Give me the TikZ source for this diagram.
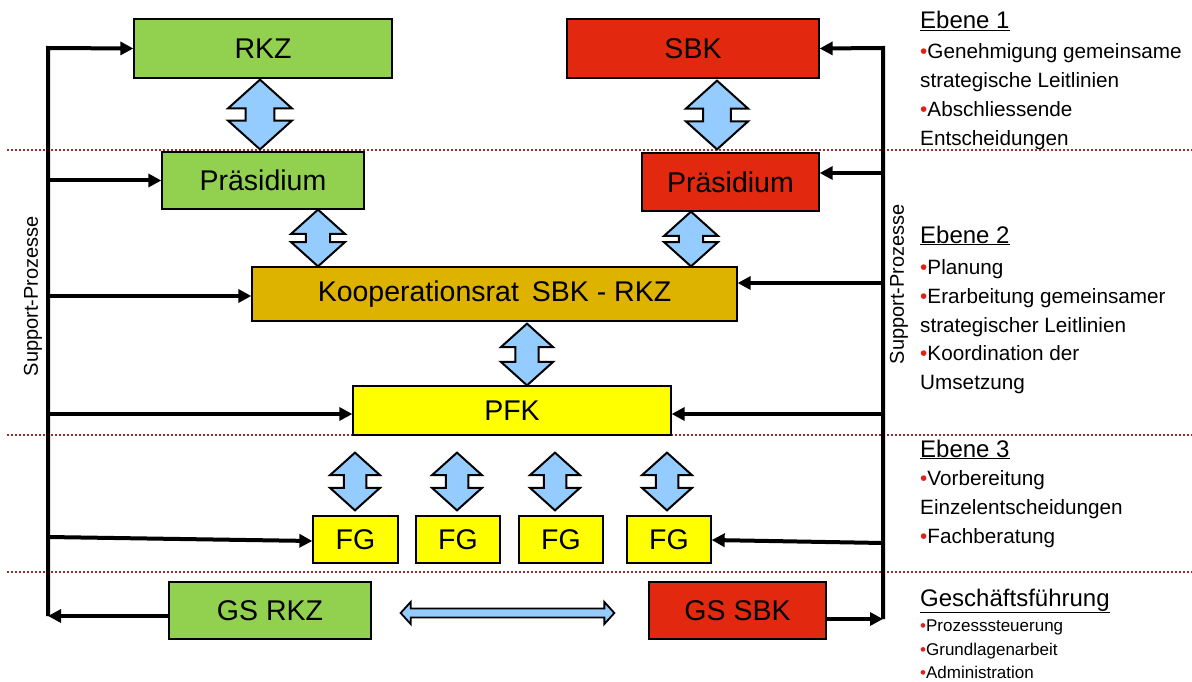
\documentclass[tikz,border=0pt]{standalone}
\usepackage{fontspec}
\setmainfont{Liberation Sans}
\usetikzlibrary{arrows.meta,calc}
\definecolor{cgreen}{HTML}{92D050}
\definecolor{cred}{HTML}{E2280F}
\definecolor{cgold}{HTML}{DDB300}
\definecolor{cyellow}{HTML}{FFFF00}
\definecolor{cblue}{HTML}{94CCFF}
\definecolor{sepcol}{HTML}{9A2F2F}
\definecolor{bulred}{HTML}{E0201A}
\newcommand\bul{{\color{bulred}•}}
% up-down double arrow: x, upper node, lower node, half width, top gap, bottom gap
\newcommand\udarr[6]{%
  \path[ud] let \p1=(#2.south), \p2=(#3.north),
    \n1={\y1-#5pt}, \n2={\y2+#6pt}, \n3={#4pt}, \n4={0.45*#4pt}, \n5={0.9*#4pt} in
    (#1pt,\n1) -- (#1pt-\n3,\n1-\n5) -- (#1pt-\n4,\n1-\n5) -- (#1pt-\n4,\n2+\n5)
    -- (#1pt-\n3,\n2+\n5) -- (#1pt,\n2) -- (#1pt+\n3,\n2+\n5) -- (#1pt+\n4,\n2+\n5)
    -- (#1pt+\n4,\n1-\n5) -- (#1pt+\n3,\n1-\n5) -- cycle;}
\begin{document}
\begin{tikzpicture}[x=1pt,y=-1pt,
  box/.style={draw=black,line width=1.3pt,inner sep=0pt,font=\fontsize{28.5}{30}\selectfont},
  conn/.style={line width=4pt,line join=miter,-{Triangle[length=13pt,width=13pt]}},
  sep/.style={draw=sepcol,line width=2pt,dash pattern=on 2pt off 2pt},
  ud/.style={fill=cblue,draw=black,line width=2pt,line join=miter},
  txt/.style={anchor=base west,inner sep=0pt,font=\fontsize{20.7}{24}\selectfont},
  etxt/.style={anchor=base west,inner sep=0pt,font=\fontsize{24}{28}\selectfont},
  stxt/.style={anchor=base west,inner sep=0pt,font=\fontsize{17}{20}\selectfont},
  htxt/.style={anchor=base west,inner sep=0pt,font=\fontsize{24}{28}\selectfont},
  vtxt/.style={rotate=90,inner sep=0pt,font=\fontsize{20}{24}\selectfont},
]
\useasboundingbox (0,0) rectangle (1192,682);
\fill[white] (0,0) rectangle (1192,682);

% separators
\draw[sep] (7,150) -- (1192,150);
\draw[sep] (7,435) -- (1192,435);
\draw[sep] (7,572) -- (1192,572);

% boxes
\node[box,fill=cgreen,minimum width=258pt,minimum height=59pt] (rkz) at (263,48.5) {RKZ};
\node[box,fill=cred,minimum width=252pt,minimum height=59pt] (sbk) at (693,48.5) {SBK};
\node[box,fill=cgreen,minimum width=202pt,minimum height=57pt] (prl) at (263,180.5) {Präsidium};
\node[box,fill=cred,minimum width=177pt,minimum height=58pt] (prr) at (730.5,182) {Präsidium};
\node[box,fill=cgold,minimum width=485pt,minimum height=54pt] (koop) at (494.5,294) {Kooperationsrat\hspace{5pt} SBK - RKZ};
\node[box,fill=cyellow,minimum width=318pt,minimum height=49pt] (pfk) at (512,410.5) {PFK};
\node[box,fill=cyellow,minimum width=85pt,minimum height=47pt] (fg1) at (355.5,539.5) {FG};
\node[box,fill=cyellow,minimum width=84pt,minimum height=47pt] (fg2) at (458,539.5) {FG};
\node[box,fill=cyellow,minimum width=84pt,minimum height=47pt] (fg3) at (561,539.5) {FG};
\node[box,fill=cyellow,minimum width=84pt,minimum height=47pt] (fg4) at (669,539.5) {FG};
\node[box,fill=cgreen,minimum width=202pt,minimum height=57pt] (gsr) at (270,610.5) {GS RKZ};
\node[box,fill=cred,minimum width=177pt,minimum height=57pt] (gss) at (737.5,610.5) {GS SBK};

% double arrows
\udarr{260}{rkz}{prl}{32}{1}{2}
\udarr{717}{sbk}{prr}{31}{2}{3}
\udarr{318}{prl}{koop}{27}{0}{0}
\udarr{691}{prr}{koop}{27}{0}{0}
\udarr{527}{koop}{pfk}{26}{2}{0}
\udarr{355}{pfk}{fg1}{25}{17}{5}
\udarr{457}{pfk}{fg2}{25}{17}{5}
\udarr{555}{pfk}{fg3}{25}{17}{5}
\udarr{667}{pfk}{fg4}{25}{17}{5}

% horizontal double arrow GS
\path[ud,line width=1.8pt] let \p1=(gsr.east), \p2=(gss.west), \n1={\x1+29pt}, \n2={\x2-34pt} in
  (\n1,613) -- (\n1+10pt,602) -- (\n1+10pt,608.5) -- (\n2-10pt,608.5) -- (\n2-10pt,602)
  -- (\n2,613) -- (\n2-10pt,624) -- (\n2-10pt,617.5) -- (\n1+10pt,617.5) -- (\n1+10pt,624) -- cycle;

% support process lines, left
\coordinate (lx) at (48,0);
\coordinate (rx) at (883,0);
\draw[conn] (48,616) -- (48,48) -- (rkz.west);
\draw[conn] (48,180.5) -- (prl.west);
\draw[conn] (48,296) -- (koop.west |- 0,296);
\draw[conn] (48,414) -- (pfk.west |- 0,414);
\draw[conn] (48,537) -- (fg1.west |- 0,541);
\draw[conn] (gsr.west |- 0,616) -- (48,616);
% right
\draw[conn] (883,619) -- (883,48) -- (sbk.east);
\draw[conn] (883,173) -- (prr.east |- 0,173);
\draw[conn] (883,283) -- (koop.east |- 0,283);
\draw[conn] (883,414) -- (pfk.east |- 0,414);
\draw[conn] (883,543) -- (fg4.east |- 0,540);
\draw[conn] (gss.east |- 0,619) -- (883,619);

\node[vtxt] (spl) at (33,296) {Support-Prozesse};
\node[vtxt] (spr) at (899,284) {Support-Prozesse};

% text column
\node[etxt] (e1) at (920,29) {\underline{Ebene 1}};
\node[txt] (e1a) at (920,59) {\bul Genehmigung gemeinsame};
\node[txt] (e1b) at (920,88) {strategische Leitlinien};
\node[txt] (e1c) at (920,117) {\bul Abschliessende};
\node[txt] (e1d) at (920,146) {Entscheidungen};

\node[etxt] (e2) at (920,243) {\underline{Ebene 2}};
\node[txt] (e2a) at (920,274) {\bul Planung};
\node[txt] (e2b) at (920,303) {\bul Erarbeitung gemeinsamer};
\node[txt] (e2c) at (920,332) {strategischer Leitlinien};
\node[txt] (e2d) at (920,360) {\bul Koordination der};
\node[txt] (e2e) at (920,389) {Umsetzung};

\node[etxt] (e3) at (920,457) {\underline{Ebene 3}};
\node[txt] (e3a) at (920,485) {\bul Vorbereitung};
\node[txt] (e3b) at (920,514) {Einzelentscheidungen};
\node[txt] (e3c) at (920,543) {\bul Fachberatung};

\node[htxt] (g) at (920,606) {\underline{Geschäftsführung}};
\node[stxt] (ga) at (920,631) {\bul Prozesssteuerung};
\node[stxt] (gb) at (920,655) {\bul Grundlagenarbeit};
\node[stxt] (gc) at (920,678.5) {\bul Administration};
\end{tikzpicture}
\end{document}
